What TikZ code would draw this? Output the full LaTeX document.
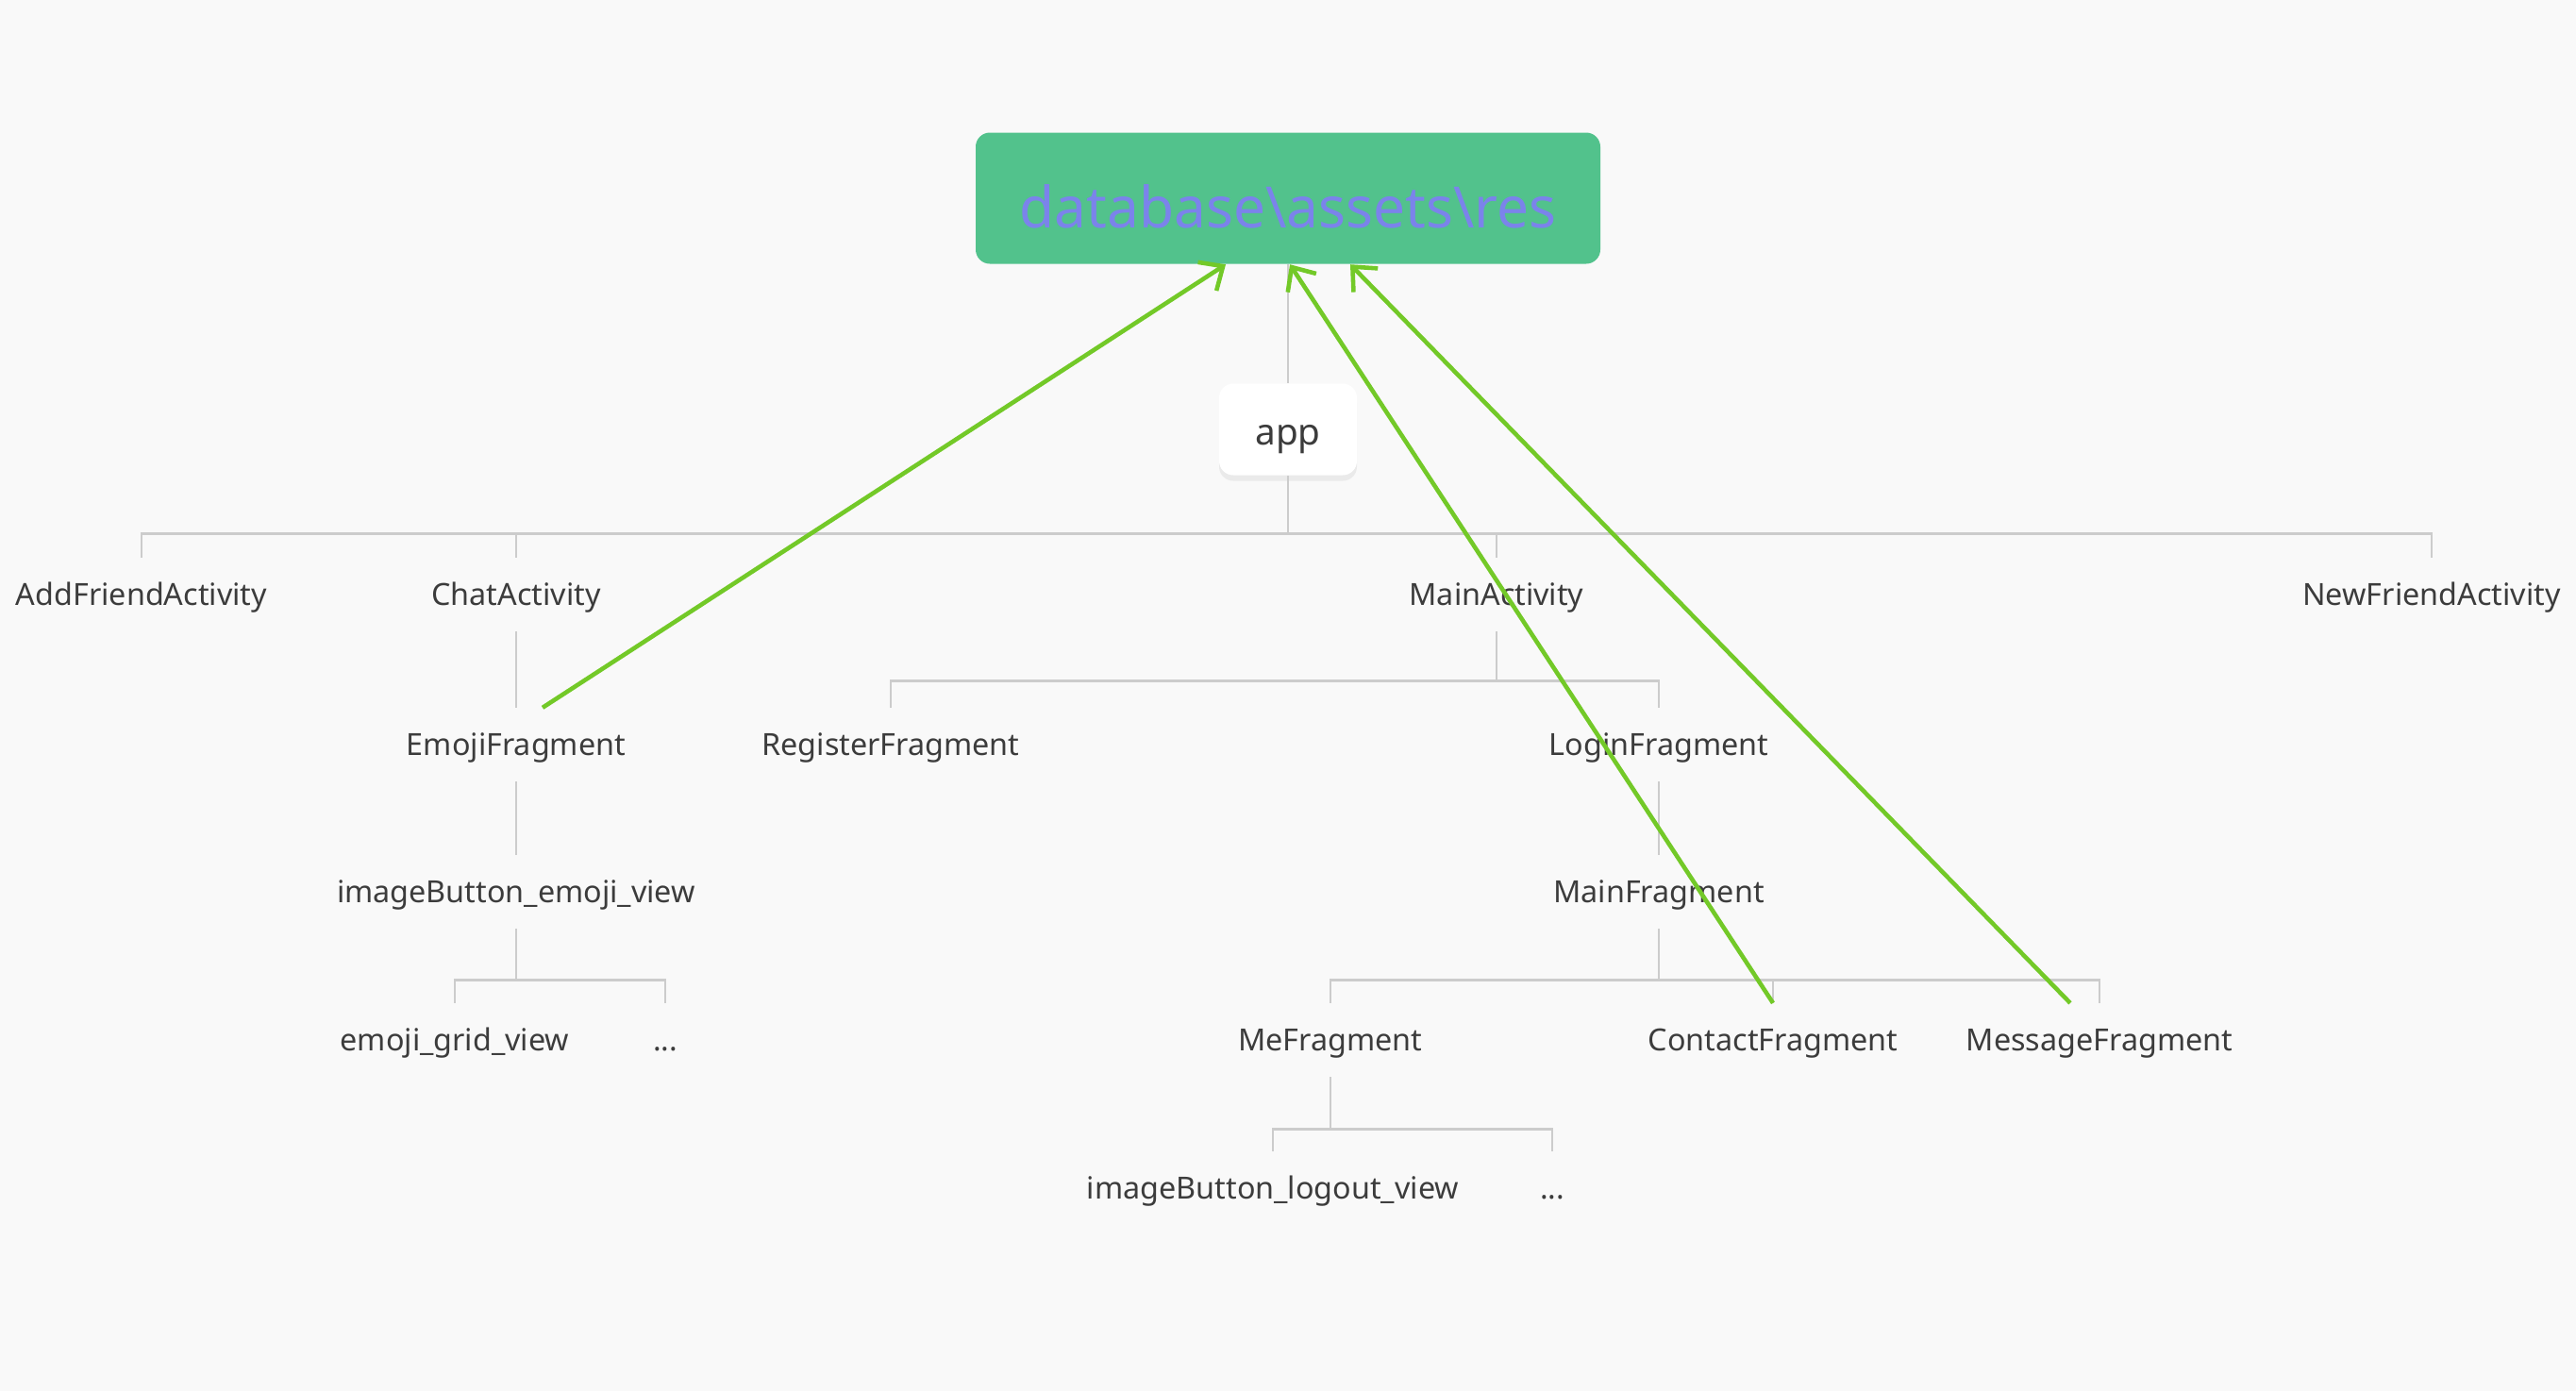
\documentclass[tikz,border=0pt]{standalone}
\usepackage{fontspec}
\setmainfont{Noto Sans}
\usepackage{tikz}
\usetikzlibrary{positioning}
\usetikzlibrary{arrows.meta}
\usetikzlibrary{shadows}
\definecolor{bggray}{RGB}{249,249,249}
\definecolor{dbgreen}{RGB}{82,194,140}
\definecolor{dbtext}{RGB}{123,131,235}
\definecolor{linkgray}{RGB}{204,204,204}
\definecolor{usegreen}{RGB}{115,201,40}
\definecolor{textgray}{RGB}{60,60,60}
\tikzstyle{dbnode} = [rectangle, rounded corners=1.5mm, fill=dbgreen, text=dbtext, minimum width=6.62cm, minimum height=1.39cm, text height=18pt, text depth=0pt, font=\fontsize{17.2}{20}\selectfont]
\tikzstyle{appnode} = [rectangle, rounded corners=1.5mm, fill=white, text=textgray, minimum width=1.46cm, minimum height=0.97cm, text height=11.5pt, text depth=2pt, font=\fontsize{11}{13}\selectfont, drop shadow={shadow xshift=0pt, shadow yshift=-0.6mm, opacity=0.12}]
\tikzstyle{leafnode} = [text=textgray, text height=1.5ex, text depth=.25ex, inner ysep=2.2mm, font=\fontsize{9.2}{11}\selectfont]
\tikzstyle{link} = [draw=linkgray, line width=0.8pt]
\tikzstyle{uses} = [draw=usegreen, line width=1.3pt, -{Straight Barb[length=2mm,width=3.6mm]}]

\begin{document}
\begin{tikzpicture}[on grid]
  \fill[bggray] (0,0) rectangle (27.3,-14.74);
  \useasboundingbox (0,0) rectangle (27.3,-14.74);

  \node[dbnode] (db) at (13.65,-2.10) {database\textbackslash assets\textbackslash res};
  \node[appnode, below=2.45cm of db] (app) {app};
  \draw[link] (db.south) -- (app.north);

  % activities
  \node[leafnode] (main) at (15.86,-6.30) {MainActivity};
  \node[leafnode, left=10.39cm of main] (chat) {ChatActivity};
  \node[leafnode, left=3.97cm of chat] (addfriend) {AddFriendActivity};
  \node[leafnode, right=9.91cm of main] (newfriend) {NewFriendActivity};
  \foreach \c in {addfriend,chat,main,newfriend}
    \draw[link] (app.south) -- ++(0,-0.61) -| (\c.north);

  % chat branch
  \node[leafnode, below=1.59cm of chat] (emoji) {EmojiFragment};
  \node[leafnode, below=1.56cm of emoji] (emojibtn) {imageButton\_emoji\_view};
  \node[leafnode, below left=1.57cm and 0.65cm of emojibtn] (emojigrid) {emoji\_grid\_view};
  \node[leafnode, below right=1.57cm and 1.58cm of emojibtn] (emojimore) {...};
  \draw[link] (chat.south) -- (emoji.north);
  \draw[link] (emoji.south) -- (emojibtn.north);
  \foreach \c in {emojigrid,emojimore}
    \draw[link] (emojibtn.south) -- ++(0,-0.54) -| (\c.north);

  % main branch
  \node[leafnode, below left=1.59cm and 6.42cm of main] (register) {RegisterFragment};
  \node[leafnode, below right=1.59cm and 1.72cm of main] (login) {LoginFragment};
  \foreach \c in {register,login}
    \draw[link] (main.south) -- ++(0,-0.52) -| (\c.north);
  \node[leafnode, below=1.56cm of login] (mainfrag) {MainFragment};
  \draw[link] (login.south) -- (mainfrag.north);

  \node[leafnode, below left=1.57cm and 3.48cm of mainfrag] (me) {MeFragment};
  \node[leafnode, below right=1.57cm and 1.21cm of mainfrag] (contact) {ContactFragment};
  \node[leafnode, below right=1.57cm and 4.67cm of mainfrag] (message) {MessageFragment};
  \foreach \c in {me,contact,message}
    \draw[link] (mainfrag.south) -- ++(0,-0.54) -| (\c.north);

  \node[leafnode, below left=1.57cm and 0.61cm of me] (logout) {imageButton\_logout\_view};
  \node[leafnode, below right=1.57cm and 2.35cm of me] (memore) {...};
  \foreach \c in {logout,memore}
    \draw[link] (me.south) -- ++(0,-0.55) -| (\c.north);

  % resource use
  \draw[uses] ([xshift=2.8mm]emoji.north) -- ([xshift=-6.6mm]db.south);
  \draw[uses] (contact.north) -- ([xshift=0.2mm]db.south);
  \draw[uses] ([xshift=-3.1mm]message.north) -- ([xshift=6.6mm]db.south);
\end{tikzpicture}
\end{document}
